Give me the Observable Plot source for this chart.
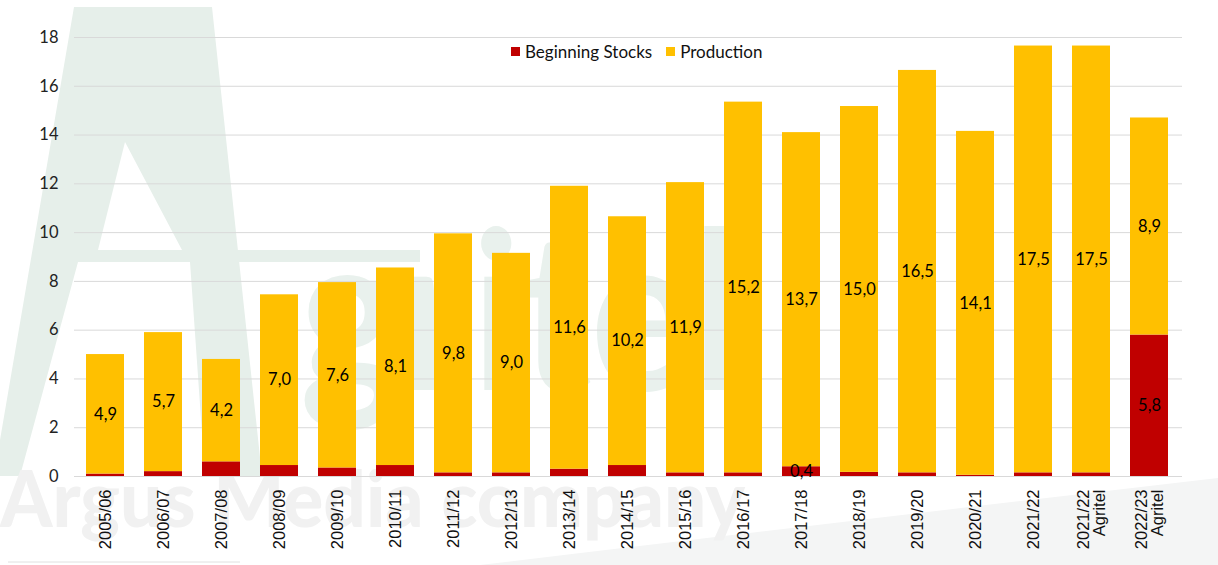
<!DOCTYPE html>
<html>
<head>
<meta charset="utf-8">
<script src="https://cdn.jsdelivr.net/npm/d3@7"></script>
<script src="https://cdn.jsdelivr.net/npm/@observablehq/plot@0.6"></script>
<style>
  html, body { margin: 0; padding: 0; background: #fff; overflow: hidden; }
  #wrap { position: relative; width: 1218px; height: 565px; }
  #wm { position: absolute; left: 0; top: 0; z-index: 0; }
  #chart { position: absolute; left: 0; top: 0; z-index: 1; }
  #legend { position: absolute; top: 41px; left: 511px; z-index: 2; font-family: Lato, "Noto Sans", sans-serif; font-size: 17px; color: #111; display: flex; align-items: center; white-space: nowrap; }
  #legend .sw { display: inline-block; width: 9px; height: 9px; margin-right: 5px; }
  #legend .item { display: inline-flex; align-items: center; margin-right: 14px; }
</style>
</head>
<body>
<div id="wrap">
  <svg id="wm" width="1218" height="565" xmlns="http://www.w3.org/2000/svg">
    <path d="M480,565 Q900,515 1218,478 L1218,565 Z" fill="#f4f5f5"/>
    <path d="M0,440 L74,7 L212,7 L262,476 L205,476 L190,262 L78,262 L20,476 L0,476 Z M125,142 L98,250 L182,250 Z" fill="#e6efea" fill-rule="evenodd"/>
    <rect x="182" y="250" width="238" height="12" fill="#e6efea"/>
    <text x="300" y="390" font-family="Lato, sans-serif" font-weight="bold" font-size="220" textLength="440" lengthAdjust="spacingAndGlyphs" fill="#e9f1ed">gritel</text>
    <text x="0" y="527" font-family="Lato, sans-serif" font-weight="900" font-size="78" textLength="745" lengthAdjust="spacingAndGlyphs" fill="#f1f1f1">Argus Media company</text>
    <line x1="8" y1="562" x2="240" y2="562" stroke="#e0e0e0" stroke-width="1"/>
  </svg>
  <div id="chart"></div>
  <div id="legend">
    <span class="item"><span class="sw" style="background:#C00000"></span>Beginning Stocks</span>
    <span class="item"><span class="sw" style="background:#FFC000"></span>Production</span>
  </div>
</div>
<script>
const seasons = ["2005/06","2006/07","2007/08","2008/09","2009/10","2010/11","2011/12","2012/13","2013/14","2014/15","2015/16","2016/17","2017/18","2018/19","2019/20","2020/21","2021/22","2021/22\nAgritel","2022/23\nAgritel"];
const beginningStocks = [0.1,0.2,0.6,0.45,0.35,0.45,0.15,0.15,0.3,0.45,0.15,0.15,0.4,0.17,0.15,0.05,0.15,0.15,5.8];
const production = [4.9,5.7,4.2,7.0,7.6,8.1,9.8,9.0,11.6,10.2,11.9,15.2,13.7,15.0,16.5,14.1,17.5,17.5,8.9];
const labelledStocks = ["2017/18","2022/23\nAgritel"];
const seriesNames = ["Beginning Stocks","Production"];
const seriesColors = ["#C00000","#FFC000"];
const yTicks = [0,2,4,6,8,10,12,14,16,18];

const fmt = v => v.toFixed(1).replace(".", ",");
const rows = [];
seasons.forEach((s, i) => {
  rows.push({season: s, series: seriesNames[0], value: beginningStocks[i], label: labelledStocks.includes(s) ? fmt(beginningStocks[i]) : ""});
  rows.push({season: s, series: seriesNames[1], value: production[i], label: fmt(production[i])});
});

const chart = Plot.plot({
  width: 1218,
  height: 565,
  marginLeft: 62,
  marginRight: 25,
  marginTop: 37,
  marginBottom: 89,
  style: {background: "transparent", overflow: "visible"},
  x: {domain: seasons, padding: 0.34, label: null},
  y: {domain: [0, 18], label: null},
  color: {domain: seriesNames, range: seriesColors},
  marks: [
    Plot.ruleY(yTicks, {stroke: "#d9d9d9", strokeWidth: 1, insetLeft: 12, insetRight: 11}),
    Plot.barY(rows, Plot.stackY({x: "season", y: "value", z: "series", fill: "series", order: seriesNames})),
    Plot.text(rows, Plot.stackY({x: "season", y: "value", z: "series", order: seriesNames, text: "label", fill: "#000", fontSize: 16.5, fontFamily: "Lato, 'Noto Sans', sans-serif"})),
    Plot.axisY({ticks: yTicks, tickSize: 0, tickPadding: 4, fontSize: 16.5, fontFamily: "Lato, 'Noto Sans', sans-serif", color: "#222", label: null}),
    Plot.axisX({tickRotate: -90, tickSize: 0, tickPadding: 13, fontSize: 16.5, fontFamily: "'Liberation Sans', Arial, sans-serif", color: "#111", label: null})
  ]
});
document.getElementById("chart").appendChild(chart);
</script>
</body>
</html>
